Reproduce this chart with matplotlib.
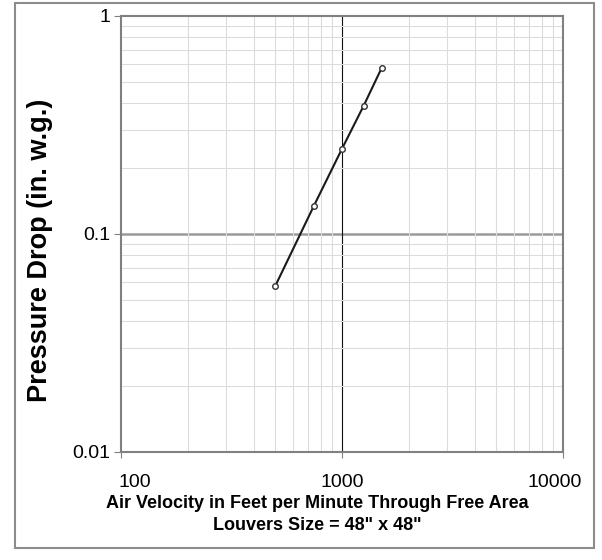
import matplotlib
matplotlib.use("Agg")
import matplotlib.pyplot as plt
from matplotlib.patches import Rectangle
from matplotlib.ticker import LogLocator, NullFormatter
import matplotlib.transforms as mtransforms

plt.rcParams['font.family'] = ['Liberation Sans', 'DejaVu Sans']

velocity = [500, 747, 1000, 1254, 1513]
pressure = [0.058, 0.135, 0.246, 0.388, 0.579]
x_ticks = [100, 1000, 10000]
x_tick_labels = ["100", "1000", "10000"]
y_ticks = [0.01, 0.1, 1]
y_tick_labels = ["0.01", "0.1", "1"]
x_label_1 = "Air Velocity in Feet per Minute Through Free Area"
x_label_2 = "Louvers Size = 48\" x 48\""
y_label = "Pressure Drop (in. w.g.)"

W, H = 602, 560
fig = plt.figure(figsize=(W / 100, H / 100), dpi=100)
fig.patches.append(Rectangle((15/W, 1-548/H), (594-15)/W, (548-3)/H,
                             transform=fig.transFigure, fill=False,
                             edgecolor='#8c8c8c', linewidth=1.5))
ax = fig.add_axes([121/W, 1-452/H, (563-121)/W, (452-16)/H])
ax.set_xscale('log')
ax.set_yscale('log')
ax.set_xlim(100, 10000)
ax.set_ylim(0.01, 1)

ax.xaxis.set_minor_locator(LogLocator(base=10, subs=range(2, 10)))
ax.yaxis.set_minor_locator(LogLocator(base=10, subs=range(2, 10)))
ax.xaxis.set_minor_formatter(NullFormatter())
ax.yaxis.set_minor_formatter(NullFormatter())
ax.tick_params(which='minor', length=0)

ax.set_xticks(x_ticks)
ax.set_xticklabels(x_tick_labels, fontsize=14)
ax.set_yticks(y_ticks)
ax.set_yticklabels(y_tick_labels, fontsize=14)
ax.tick_params(axis='x', which='major', length=4, pad=12, color='#808080')
ax.tick_params(axis='y', which='major', length=5, pad=3, color='#808080')

offsets = [14, 0, -8]
for lab, off in zip(ax.get_xticklabels(), offsets):
    lab.set_transform(lab.get_transform() + mtransforms.Affine2D().translate(off, 0))

ax.grid(which='minor', color='#dcdcdc', linewidth=0.8)
ax.axhline(0.1, color='#9a9a9a', linewidth=1.8, zorder=1)
ax.axvline(1000, color='#111111', linewidth=0.8, zorder=1)

for s in ax.spines.values():
    s.set_color('#808080')
    s.set_linewidth(1.5)

ax.plot(velocity, pressure, color='#1a1a1a', linewidth=1.5, marker='o',
        markersize=4, markerfacecolor='white', markeredgecolor='#333333',
        markeredgewidth=1.0, zorder=3)

fig.text(40/W, 1-250/H, y_label, fontsize=19.5, fontweight='bold',
         rotation=90, ha='center', va='center')

fig.text(317/W, 1-504/H, x_label_1, fontsize=13, fontweight='bold',
         ha='center', va='center')
fig.text(317/W, 1-525/H, x_label_2, fontsize=13, fontweight='bold',
         ha='center', va='center')

fig.savefig("out.png", dpi=100, facecolor='white')
